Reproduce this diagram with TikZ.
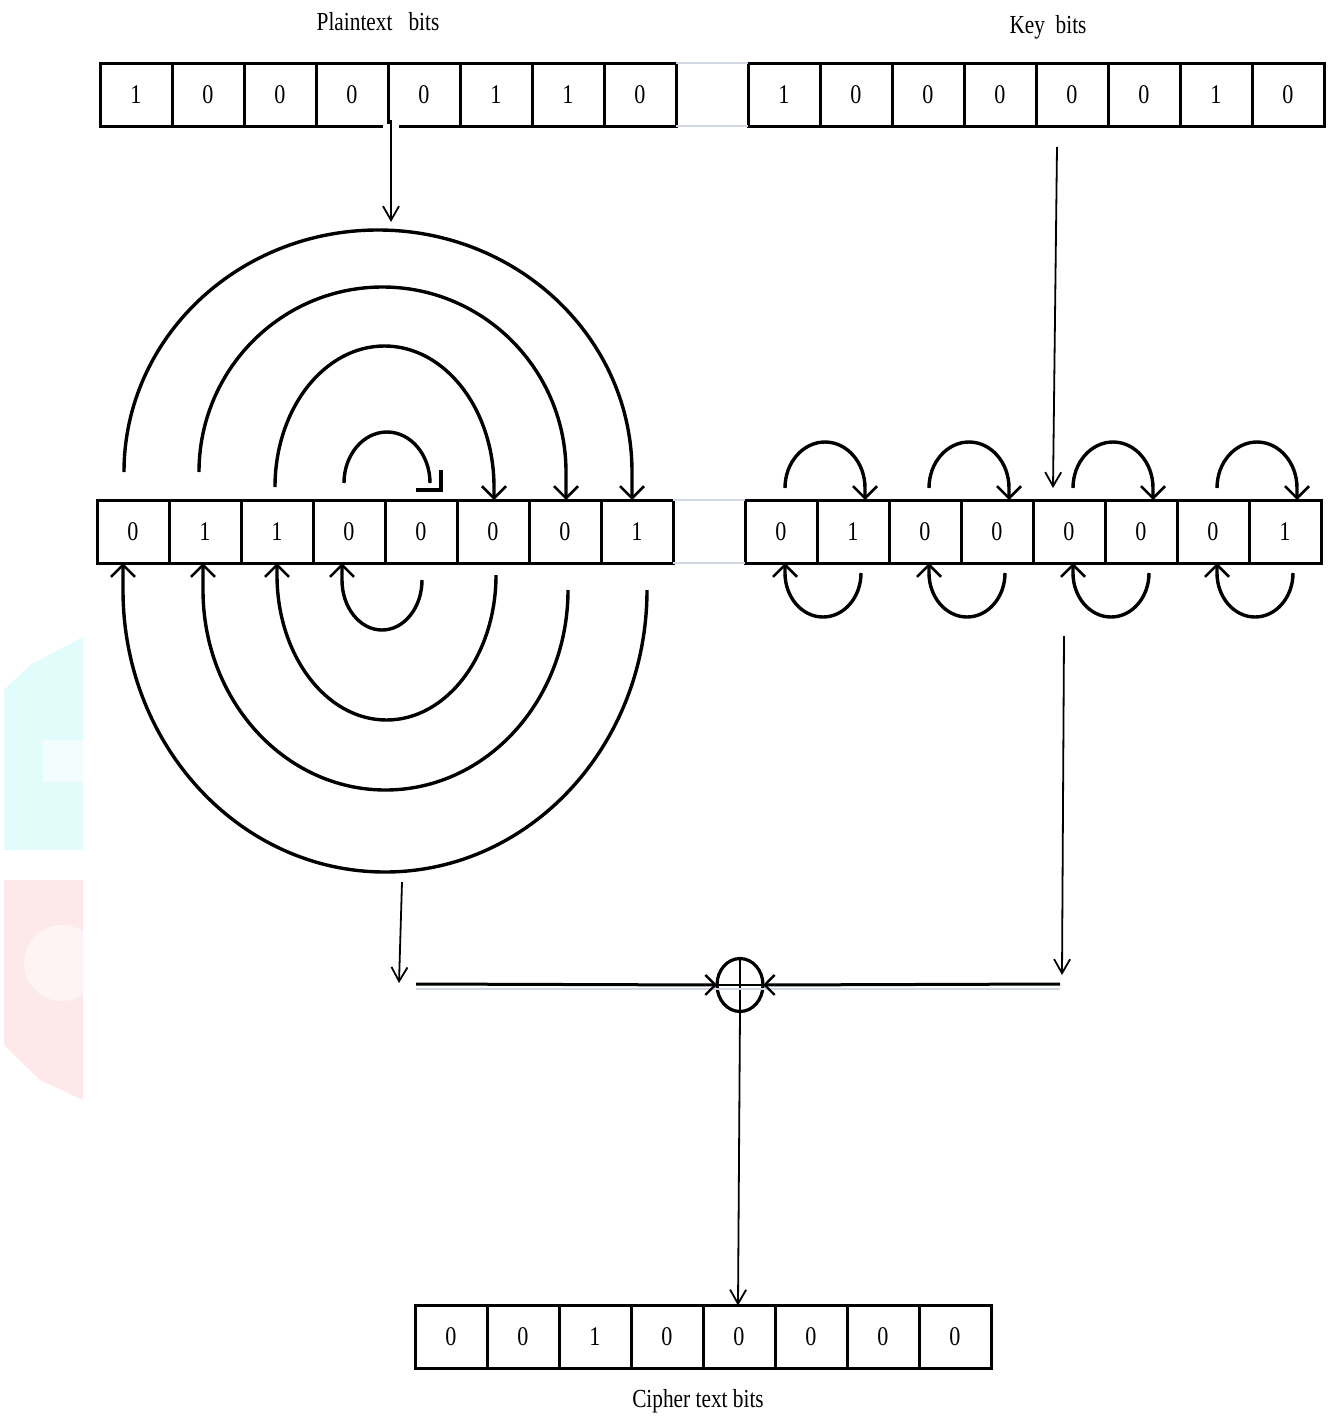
\documentclass[tikz,border=0pt]{standalone}
\usepackage{fontspec}
\setmainfont{Liberation Serif}
\usetikzlibrary{arrows.meta,shapes.geometric,calc}
\newcommand\condx[1]{\scalebox{0.82}[1]{#1}}
\definecolor{wmcyan}{RGB}{226,251,251}
\definecolor{wmpink}{RGB}{253,233,233}
\definecolor{faint}{RGB}{210,216,230}
\tikzset{
  cell/.style={draw, line width=3pt, minimum width=72pt, minimum height=63pt,
    inner sep=0pt, outer sep=0pt, font=\fontsize{27}{30}\selectfont},
  lbl/.style={inner sep=0pt, font=\fontsize{26}{30}\selectfont},
  bigarc/.style={line width=3.4pt, -{Straight Barb[length=12pt,width=24pt,line width=2.6pt]}},
  plainarc/.style={line width=3.4pt},
  thinarr/.style={line width=1.8pt, -{Straight Barb[length=14pt,width=16pt,line width=1.8pt]}},
  hline/.style={line width=3pt, -{Straight Barb[length=10pt,width=20pt,line width=2.4pt]}},
  xorn/.style={ellipse, draw, line width=3.2pt, minimum width=46pt, minimum height=53pt, inner sep=0pt, outer sep=0pt},
  gridl/.style={faint, line width=1.2pt}
}
\begin{document}
\begin{tikzpicture}[x=1pt,y=1pt]
\useasboundingbox (0,0) rectangle (1330,-1416);
\fill[white] (0,0) rectangle (1330,-1416);
% faint watermark at the left edge
\fill[wmcyan] (4,-690) -- (30,-665) -- (83,-637) -- (83,-850) -- (4,-850) -- cycle;
\fill[white, opacity=0.6] (43,-740) rectangle (83,-782);
\fill[wmpink] (4,-880) -- (83,-880) -- (83,-1100) -- (40,-1080) -- (4,-1045) -- cycle;
\fill[white, opacity=0.5] (62,-963) circle[radius=38pt];
% rows of cells
\foreach \b [count=\i] in {1,0,0,0,0,1,1,0}
  \node[cell] (p\i) at ({136+72*(\i-1)},-94.5) {\condx{\b}};
\foreach \b [count=\i] in {1,0,0,0,0,0,1,0}
  \node[cell] (k\i) at ({784+72*(\i-1)},-94.5) {\condx{\b}};
\foreach \b [count=\i] in {0,1,1,0,0,0,0,1}
  \node[cell] (m\i) at ({133+72*(\i-1)},-531.5) {\condx{\b}};
\foreach \b [count=\i] in {0,1,0,0,0,0,0,1}
  \node[cell] (n\i) at ({781+72*(\i-1)},-531.5) {\condx{\b}};
\foreach \b [count=\i] in {0,0,1,0,0,0,0,0}
  \node[cell] (c\i) at ({451+72*(\i-1)},-1337) {\condx{\b}};
% faint grid lines between the box groups
\draw[gridl] (p8.north east) -- (k1.north west);
\draw[gridl] (p8.south east) -- (k1.south west);
\draw[gridl] (m8.north east) -- (n1.north west);
\draw[gridl] (m8.south east) -- (n1.south west);
% labels
\node[lbl] (lp) at (378,-22) {\condx{Plaintext\ \ \ bits}};
\node[lbl] (lk) at (1048,-27) {\condx{Key\ \ bits}};
\node[lbl] (lc) at (698,-1401) {\condx{Cipher text bits}};
% plaintext arrow down
\draw[white, line width=5pt] ([xshift=-5]p4.south east) -- ([xshift=11]p4.south east);
\coordinate (pin) at (391,-222);
\draw[thinarr] ([shift={(3,6)}]p4.south east) -- (pin);
% key arrow down
\draw[thinarr] ([shift={(-15,-21)}]k5.south) -- ([shift={(-16,12)}]n5.north);
% reversal arcs (top)
\draw[bigarc] ([shift={(-9,28)}]m1.north) arc[start angle=180,end angle=0,x radius=254pt,y radius=242pt] -- ([xshift=-5]m8.north);
\draw[bigarc] ([shift={(-6,28)}]m2.north) arc[start angle=180,end angle=0,x radius=183.5pt,y radius=185pt] -- ([xshift=1]m7.north);
\draw[bigarc] ([shift={(-2,13)}]m3.north) arc[start angle=180,end angle=0,x radius=109.5pt,y radius=141pt] -- ([xshift=1]m6.north);
\draw[plainarc] ([shift={(-5,17)}]m4.north) arc[start angle=180,end angle=0,x radius=43pt,y radius=51pt];
\draw[plainarc] ([shift={(-5,10)}]m5.north) -- ([shift={(20,10)}]m5.north) -- ([shift={(20,30)}]m5.north);
% reversal arcs (bottom)
\draw[bigarc] ([shift={(10,-27)}]m8.south) arc[start angle=0,end angle=-180,x radius=262pt,y radius=282pt] -- ([xshift=-10]m1.south);
\draw[bigarc] ([shift={(3,-27)}]m7.south) arc[start angle=0,end angle=-180,x radius=182.5pt,y radius=200pt] -- ([xshift=-2]m2.south);
\draw[bigarc] ([shift={(3,-12)}]m6.south) arc[start angle=0,end angle=-180,x radius=109.5pt,y radius=145pt] -- (m3.south);
\draw[bigarc] ([shift={(1,-17)}]m5.south) arc[start angle=0,end angle=-180,x radius=40pt,y radius=50pt] -- ([xshift=-7]m4.south);
% swap loops on the key
\foreach \a/\b in {1/2,3/4,5/6,7/8} {
  \draw[bigarc] ([shift={(4,12)}]n\a.north) arc[start angle=180,end angle=0,x radius=40pt,y radius=46pt] -- ([xshift=12]n\b.north);
  \draw[bigarc] ([shift={(8,-10)}]n\b.south) arc[start angle=0,end angle=-180,x radius=38pt,y radius=44pt] -- ([xshift=4]n\a.south);
}
% down arrows to the XOR
\coordinate (ls) at (402,-882);
\coordinate (le) at (399,-983);
\draw[thinarr] (ls) -- (le);
\coordinate (re) at (1062,-975);
\draw[thinarr] ([shift={(-5,-73)}]n5.south) -- (re);
% XOR
\node[xorn] (x) at (740,-985) {};
\draw[line width=2.4pt] (x.north) -- (x.south) (x.west) -- (x.east);
\coordinate (hl) at (416,-984);
\coordinate (hr) at (1060,-984);
\draw[gridl] ([yshift=-5]hl) -- ([yshift=-5]hr);
\draw[hline] (hl) -- (x.west);
\draw[hline] (hr) -- (x.east);
\draw[thinarr] (x.south) -- ([xshift=-1]c5.north);
\end{tikzpicture}
\end{document}
